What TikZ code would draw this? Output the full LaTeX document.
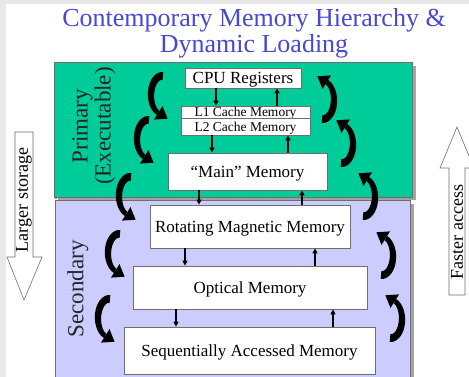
\documentclass[tikz,border=0pt]{standalone}
\usepackage{fontspec}
\setmainfont{Liberation Serif}
\usetikzlibrary{arrows.meta}
\definecolor{titleblue}{RGB}{72,72,214}
\definecolor{primgreen}{RGB}{0,204,153}
\definecolor{seclav}{RGB}{204,204,255}
\definecolor{edgegray}{RGB}{110,110,110}
\definecolor{shadowgray}{RGB}{165,165,165}
\newcommand{\fs}[1]{\fontsize{#1}{#1}\selectfont}
\tikzset{
  membox/.style={draw=edgegray, line width=0.7pt, fill=white, inner sep=0pt,
    font=\fs{17}, text depth=0pt},
  cachebox/.style={membox, font=\fs{13.5}},
  tier/.style={draw=edgegray, line width=0.6pt},
  flow/.style={line width=1.1pt, -{Triangle[length=5pt,width=5pt]}},
  sidelabel/.style={rotate=90, font=\fs{23}, text=black!85, align=center},
  bigarrow/.style={draw=edgegray, line width=0.6pt, fill=white},
  arrowtext/.style={rotate=90, font=\fs{18}, inner sep=0pt},
  % tapered C-shaped arrow: tail at the top, bulging left, head at the bottom
  curl/.pic={
    \fill[black]
      plot[domain=-85:-250, samples=40]
        ({(11+4-1.5*(-85-(\x))/165)*cos(\x)},{(19+4-1.5*(-85-(\x))/165)*sin(\x)})
      -- plot[domain=-250:-85, samples=40]
        ({(11-4+1.5*(-85-(\x))/165)*cos(\x)},{(19-4+1.5*(-85-(\x))/165)*sin(\x)})
      -- cycle;
    \fill[black] (-8.0,24.6) -- (5.6,23.7) -- (0.5,11.1) -- cycle;
  }
}
\begin{document}
\begin{tikzpicture}[x=1pt,y=-1pt]
\useasboundingbox (0,0) rectangle (469,377);
% page backdrop
\fill[black!9] (0,0) rectangle (469,377);
\fill[white] (6,4) rectangle (469,377);

% title
\node[font=\fs{26}, text=titleblue, align=center, inner sep=0pt] (title) at (254,33)
  {Contemporary Memory Hierarchy \&\\[0pt] Dynamic Loading};

% tier panels with shadows
\fill[shadowgray] (58,66) rectangle (416,200);
\fill[shadowgray] (59,204) rectangle (414,377);
\fill[tier, fill=primgreen] (54,62) rectangle (412,197);
\fill[tier, fill=seclav] (55,200) rectangle (410,379);
\draw[black!40, line width=1pt, dash pattern=on 2pt off 1.5pt] (55,198.5) -- (414,198.5);

% tier labels
\node[sidelabel] (prim) at (94,126) {Primary\\(Executable)};
\node[sidelabel] (sec) at (78,289) {Secondary};

% memory levels
\node[membox, minimum width=116, minimum height=20] (cpu) at (243,78) {CPU Registers};
\node[cachebox, minimum width=129, minimum height=12] (l1) at (245.5,112) {L1 Cache Memory};
\node[cachebox, minimum width=129, minimum height=17] (l2) at (245.5,126.5) {L2 Cache Memory};
\node[membox, minimum width=159, minimum height=37] (main) at (247.5,171.5) {``Main'' Memory};
\node[membox, minimum width=200, minimum height=43] (rot) at (250,226.5) {Rotating Magnetic Memory};
\node[membox, minimum width=234, minimum height=43] (opt) at (250,287.5) {Optical Memory};
\node[membox, minimum width=251, minimum height=47] (seq) at (249.5,350.5) {Sequentially Accessed Memory};

% columns of the transfer arrows
\coordinate (d1) at (216,0);  \coordinate (u1) at (277,0);
\coordinate (d2) at (212,0);  \coordinate (u2) at (288,0);
\coordinate (d3) at (199,0);  \coordinate (u3) at (302,0);
\coordinate (d4) at (185,0);  \coordinate (u4) at (315,0);
\coordinate (d5) at (176,0);  \coordinate (u5) at (333,0);

\draw[flow] (cpu.south -| d1) -- (l1.north -| d1);
\draw[flow] (l1.north -| u1) -- (cpu.south -| u1);
\draw[flow] (l2.south -| d2) -- (main.north -| d2);
\draw[flow] (main.north -| u2) -- (l2.south -| u2);
\draw[flow] (main.south -| d3) -- (rot.north -| d3);
\draw[flow] (rot.north -| u3) -- (main.south -| u3);
\draw[flow] (rot.south -| d4) -- (opt.north -| d4);
\draw[flow] (opt.north -| u4) -- (rot.south -| u4);
\draw[flow] (opt.south -| d5) -- (seq.north -| d5);
\draw[flow] (seq.north -| u5) -- (opt.south -| u5);

% loading (downward, left side)
\pic at (162,95) {curl};
\pic at (148,139) {curl};
\pic at (130,196) {curl};
\pic at (119,253) {curl};
\pic at (109,318) {curl};
% storing back (upward, right side)
\pic[rotate=180] at (323,100) {curl};
\pic[rotate=180] at (342,144) {curl};
\pic[rotate=180] at (364,197) {curl};
\pic[rotate=180] at (382,256) {curl};
\pic[rotate=180] at (391,319) {curl};

% side scale arrows
\draw[bigarrow] (15,132) -- (33,132) -- (33,257) -- (42,257) -- (24,300)
  -- (7,257) -- (15,257) -- cycle;
\node[arrowtext] (larger) at (24,200) {Larger storage};
\draw[bigarrow] (449,295) -- (465,295) -- (465,168) -- (474,168) -- (457,127)
  -- (440,168) -- (449,168) -- cycle;
\node[arrowtext] (faster) at (457,232) {Faster access};
\end{tikzpicture}
\end{document}
